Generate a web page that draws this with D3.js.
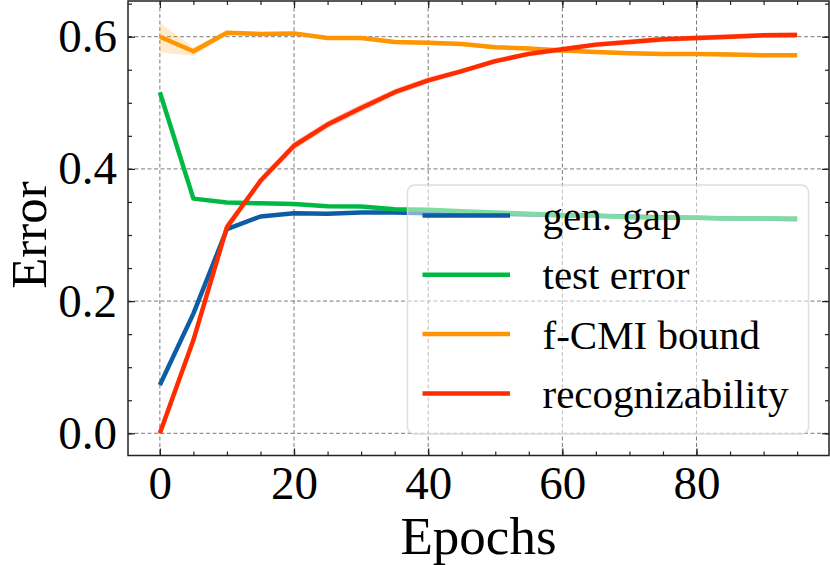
<!DOCTYPE html>
<html>
<head>
<meta charset="utf-8">
<script src="https://cdn.jsdelivr.net/npm/d3@7"></script>
<style>
  body { margin: 0; background: #fff; }
  svg { display: block; font-family: "Liberation Serif", "Times New Roman", serif; }
</style>
</head>
<body>
<div id="chart"></div>
<script>
// data
var epochs = [0, 5, 10, 15, 20, 25, 30, 35, 40, 45, 50, 55, 60, 65, 70, 75, 80, 85, 90, 95];
var genGap = [0.073, 0.181, 0.309, 0.328, 0.333, 0.332, 0.334, 0.334, 0.333, 0.332, 0.332, 0.331, 0.330, 0.329, 0.328, 0.327, 0.326, 0.325, 0.325, 0.324];
var testError = [0.516, 0.355, 0.349, 0.348, 0.347, 0.3435, 0.343, 0.339, 0.338, 0.336, 0.334, 0.332, 0.330, 0.329, 0.327, 0.326, 0.326, 0.325, 0.325, 0.325];
var fcmi = [0.600, 0.578, 0.606, 0.604, 0.605, 0.598, 0.598, 0.592, 0.591, 0.589, 0.584, 0.582, 0.579, 0.577, 0.575, 0.574, 0.574, 0.573, 0.572, 0.572];
var fcmiLo = [0.576, 0.571, 0.603, 0.601, 0.602, 0.595, 0.595, 0.589, 0.588, 0.586, 0.581, 0.579, 0.576, 0.574, 0.572, 0.571, 0.571, 0.570, 0.569, 0.569];
var fcmiHi = [0.621, 0.584, 0.609, 0.607, 0.608, 0.601, 0.601, 0.595, 0.594, 0.592, 0.587, 0.585, 0.582, 0.580, 0.578, 0.577, 0.577, 0.576, 0.575, 0.575];
var recog = [0.000, 0.141, 0.312, 0.382, 0.435, 0.467, 0.492, 0.516, 0.534, 0.548, 0.563, 0.574, 0.581, 0.588, 0.592, 0.596, 0.598, 0.600, 0.602, 0.6025];
var recogLo = [0.000, 0.137, 0.306, 0.376, 0.429, 0.461, 0.486, 0.511, 0.529, 0.544, 0.559, 0.570, 0.577, 0.584, 0.588, 0.592, 0.594, 0.596, 0.598, 0.598];
var recogHi = [0.000, 0.145, 0.318, 0.388, 0.441, 0.473, 0.498, 0.521, 0.539, 0.552, 0.567, 0.578, 0.585, 0.592, 0.596, 0.600, 0.602, 0.604, 0.606, 0.607];
var xTicks = [0, 20, 40, 60, 80];
var yTicks = [0.0, 0.2, 0.4, 0.6];
var labels = ["gen. gap", "test error", "f-CMI bound", "recognizability"];

var W = 830, H = 565;
var L = 128, R = 829, T = 1, B = 455.5;

var svg = d3.select("#chart").append("svg")
    .attr("width", W)
    .attr("height", H);

var x = d3.scaleLinear().domain([-4.75, 99.75]).range([L, R]);
var y = d3.scaleLinear().domain([-0.0336, 0.654]).range([B, T]);

var series = [
  {vals: genGap, color: "#0C5DA5"},
  {vals: testError, color: "#00B945"},
  {vals: fcmi, lo: fcmiLo, hi: fcmiHi, color: "#FF9500"},
  {vals: recog, lo: recogLo, hi: recogHi, color: "#FF2C00"}
];

svg.append("defs").append("clipPath")
    .attr("id", "clip")
    .append("rect")
    .attr("x", L).attr("y", T)
    .attr("width", R - L).attr("height", B - T);

// grid
var grid = svg.append("g").attr("class", "grid");
xTicks.forEach(function(t) {
  grid.append("line")
    .attr("x1", x(t)).attr("x2", x(t)).attr("y1", T).attr("y2", B);
});
yTicks.forEach(function(t) {
  grid.append("line")
    .attr("x1", L).attr("x2", R).attr("y1", y(t)).attr("y2", y(t));
});
grid.selectAll("line")
    .attr("stroke", "#7a7a7a")
    .attr("stroke-width", 1)
    .attr("stroke-dasharray", "4,2.5");

var plot = svg.append("g").attr("clip-path", "url(#clip)");

var line = d3.line()
    .x(function(d, i) { return x(epochs[i]); })
    .y(function(d) { return y(d); });

var area = d3.area()
    .x(function(d) { return x(d.e); })
    .y0(function(d) { return y(d.lo); })
    .y1(function(d) { return y(d.hi); });

series.forEach(function(s) {
  if (s.lo) {
    var band = epochs.map(function(e, i) { return {e: e, lo: s.lo[i], hi: s.hi[i]}; });
    plot.append("path")
      .datum(band)
      .attr("d", area)
      .attr("fill", s.color)
      .attr("fill-opacity", 0.2);
  }
  plot.append("path")
    .datum(s.vals)
    .attr("d", line)
    .attr("fill", "none")
    .attr("stroke", s.color)
    .attr("stroke-width", 4.5)
    .attr("stroke-linejoin", "round");
});

// axes: ticks inward on all sides
var xAxisB = d3.axisBottom(x).tickValues(xTicks).tickSize(-7).tickPadding(10).tickFormat(d3.format("d"));
var xAxisT = d3.axisTop(x).tickValues(xTicks).tickSize(-7).tickFormat("");
var yAxisL = d3.axisLeft(y).tickValues(yTicks).tickSize(-7).tickPadding(11).tickFormat(d3.format(".1f"));
var yAxisR = d3.axisRight(y).tickValues(yTicks).tickSize(-7).tickFormat("");

var xMinor = d3.range(0, 100, 5);
var yMinor = d3.range(0, 0.66, 0.05);

svg.append("g").attr("transform", "translate(0," + B + ")").call(xAxisB);
svg.append("g").attr("transform", "translate(0," + T + ")").call(xAxisT);
svg.append("g").attr("transform", "translate(" + L + ",0)").call(yAxisL);
svg.append("g").attr("transform", "translate(" + R + ",0)").call(yAxisR);

svg.append("g").attr("transform", "translate(0," + B + ")")
    .call(d3.axisBottom(x).tickValues(xMinor).tickSize(-4).tickFormat(""));
svg.append("g").attr("transform", "translate(0," + T + ")")
    .call(d3.axisTop(x).tickValues(xMinor).tickSize(-4).tickFormat(""));
svg.append("g").attr("transform", "translate(" + L + ",0)")
    .call(d3.axisLeft(y).tickValues(yMinor).tickSize(-4).tickFormat(""));
svg.append("g").attr("transform", "translate(" + R + ",0)")
    .call(d3.axisRight(y).tickValues(yMinor).tickSize(-4).tickFormat(""));

svg.selectAll(".domain").remove();
svg.selectAll(".tick line").attr("stroke", "#222").attr("stroke-width", 1.2);
svg.selectAll(".tick text")
    .attr("fill", "#000")
    .style("font-family", "'Liberation Serif', 'Times New Roman', serif")
    .style("font-size", "47px");

svg.append("rect")
    .attr("x", L).attr("y", T)
    .attr("width", R - L).attr("height", B - T)
    .attr("fill", "none")
    .attr("stroke", "#222")
    .attr("stroke-width", 1.5);

// axis labels
svg.append("text")
    .attr("x", (L + R) / 2)
    .attr("y", 554)
    .attr("text-anchor", "middle")
    .style("font-size", "53px")
    .text("Epochs");

svg.append("text")
    .attr("transform", "translate(46," + 235 + ") rotate(-90)")
    .attr("text-anchor", "middle")
    .style("font-size", "51px")
    .text("Error");

// legend
var leg = svg.append("g");
leg.append("rect")
    .attr("x", 407.5).attr("y", 185)
    .attr("width", 401).attr("height", 249)
    .attr("rx", 7)
    .attr("fill", "#fff").attr("fill-opacity", 0.5)
    .attr("stroke", "#d6d6d6").attr("stroke-opacity", 0.8)
    .attr("stroke-width", 1.5);

labels.forEach(function(lab, i) {
  var yy = 215.5 + i * 59.3;
  leg.append("line")
    .attr("x1", 422.5).attr("x2", 510)
    .attr("y1", yy).attr("y2", yy)
    .attr("stroke", series[i].color)
    .attr("stroke-width", 4.5);
  leg.append("text")
    .attr("x", 542.5)
    .attr("y", yy + 14.5)
    .style("font-size", "41px")
    .text(lab);
});
</script>
</body>
</html>
